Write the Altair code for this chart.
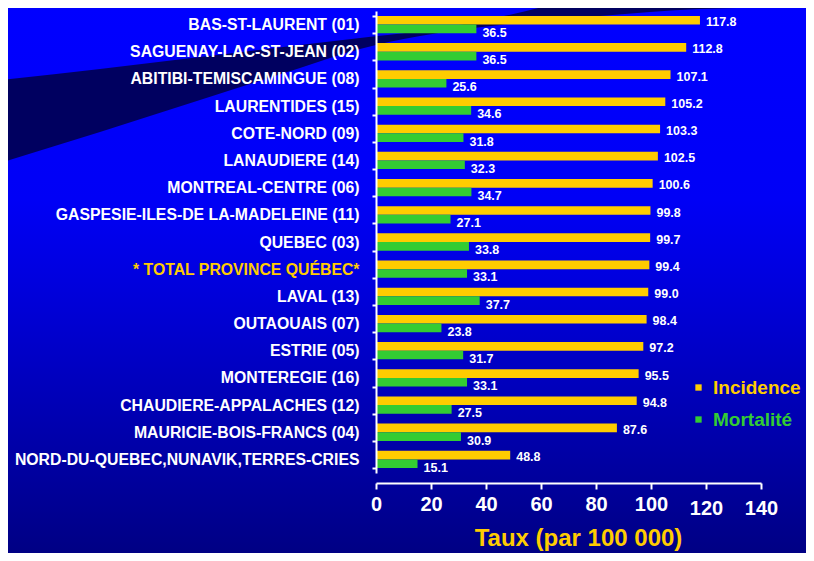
import altair as alt
import pandas as pd

regions = [
    "BAS-ST-LAURENT (01)",
    "SAGUENAY-LAC-ST-JEAN (02)",
    "ABITIBI-TEMISCAMINGUE (08)",
    "LAURENTIDES (15)",
    "COTE-NORD (09)",
    "LANAUDIERE (14)",
    "MONTREAL-CENTRE (06)",
    "GASPESIE-ILES-DE LA-MADELEINE (11)",
    "QUEBEC (03)",
    "* TOTAL PROVINCE QUÉBEC*",
    "LAVAL (13)",
    "OUTAOUAIS (07)",
    "ESTRIE (05)",
    "MONTEREGIE (16)",
    "CHAUDIERE-APPALACHES (12)",
    "MAURICIE-BOIS-FRANCS (04)",
    "NORD-DU-QUEBEC,NUNAVIK,TERRES-CRIES",
]
incidence = [117.8, 112.8, 107.1, 105.2, 103.3, 102.5, 100.6, 99.8, 99.7, 99.4,
             99.0, 98.4, 97.2, 95.5, 94.8, 87.6, 48.8]
mortalite = [36.5, 36.5, 25.6, 34.6, 31.8, 32.3, 34.7, 27.1, 33.8, 33.1,
             37.7, 23.8, 31.7, 33.1, 27.5, 30.9, 15.1]
series = ["Incidence", "Mortalité"]
x_ticks = [0, 20, 40, 60, 80, 100, 120, 140]
total_label = "* TOTAL PROVINCE QUÉBEC*"

# decorative background swoosh (pixels, relative to plot origin)
swoosh_x = [-376, -276, -176, -76, -16, 44, 124, 197, 224, 324, 440]
swoosh_top = [69, 58, 46, 34, 27, 20, 6, -11, -16, -16, -16]
swoosh_bottom = [152, 121, 89, 57, 38, 25, 14, 7, 5, -2, -4]

YELLOW = "#ffcc00"
GREEN = "#33cc33"
FONT = "Liberation Sans"

rows = []
for r, i, m in zip(regions, incidence, mortalite):
    rows.append({"region": r, "series": series[0], "value": i})
    rows.append({"region": r, "series": series[1], "value": m})
df = pd.DataFrame(rows)

W, H = 385, 462

bg = alt.Chart(pd.DataFrame({"k": [0]})).mark_rect(
    color=alt.LinearGradient(
        gradient="linear", x1=0, x2=0, y1=0, y2=1,
        stops=[
            alt.GradientStop(offset=0, color="#0000ff"),
            alt.GradientStop(offset=0.35, color="#0000f6"),
            alt.GradientStop(offset=0.55, color="#0000d6"),
            alt.GradientStop(offset=1, color="#000084"),
        ],
    )
).encode(
    x=alt.value(-368), x2=alt.value(430), y=alt.value(-3), y2=alt.value(542)
)

swoosh = alt.Chart(pd.DataFrame({"sx": swoosh_x, "st": swoosh_top, "sb": swoosh_bottom})).mark_area(
    color="#000060", interpolate="monotone"
).encode(
    x=alt.X("sx:Q", scale=None, axis=None),
    y=alt.Y("st:Q", scale=None, axis=None, stack=None),
    y2="sb:Q",
)

y_enc = alt.Y(
    "region:N", sort=regions,
    scale=alt.Scale(paddingInner=0.364, paddingOuter=0.182),
    axis=alt.Axis(
        title=None, domainColor="white", domainWidth=2, tickColor="white",
        tickWidth=2, tickSize=4, tickBand="extent", zindex=1,
        labelColor=alt.condition(alt.datum.value == total_label, alt.value(YELLOW), alt.value("white")),
        labelFont=FONT, labelFontWeight="bold", labelFontSize=15.8, labelPadding=13,
        labelLimit=500, grid=False,
    ),
)
x_enc = alt.X(
    "value:Q", scale=alt.Scale(domain=[0, 140], nice=False, zero=True),
    axis=alt.Axis(
        values=x_ticks, title="Taux (par 100 000)", offset=10, zindex=1,
        domainColor="white", domainWidth=2, tickColor="white", tickWidth=2, tickSize=6,
        labelColor="white", labelFont=FONT, labelFontWeight="bold", labelFontSize=20,
        labelPadding=alt.condition("datum.value >= 120", alt.value(9), alt.value(5)),
        titleColor=YELLOW, titleFont=FONT, titleFontWeight="bold", titleFontSize=24,
        titleX=202, titleY=62, titleBaseline="alphabetic", titleAlign="center",
        grid=False, labelFlush=False,
    ),
)
yoff = alt.YOffset("series:N", sort=series, scale=alt.Scale(paddingInner=0, paddingOuter=0))

bars = alt.Chart(df).mark_bar().encode(
    y=y_enc, x=x_enc, yOffset=yoff,
    color=alt.Color(
        "series:N", sort=series,
        scale=alt.Scale(domain=series, range=[YELLOW, GREEN]),
        legend=alt.Legend(
            title=None, orient="none", legendX=313, legendY=367,
            symbolType="square", symbolSize=40, symbolStrokeWidth=0,
            labelFont=FONT, labelFontWeight="bold", labelFontSize=19,
            labelColor={"expr": "datum.label == 'Incidence' ? '#ffcc00' : '#33cc33'"},
            labelOffset=5, rowPadding=12, padding=0, zindex=1,
        ),
    ),
)

def value_text(name, dy):
    return alt.Chart(df).transform_filter(alt.datum.series == name).mark_text(
        align="left", baseline="middle", dx=6, dy=dy, color="white",
        font=FONT, fontWeight="bold", fontSize=12.5,
    ).encode(
        y=alt.Y("region:N", sort=regions), x=alt.X("value:Q"), yOffset=yoff,
        text=alt.Text("value:Q", format=".1f"),
    )

main = alt.layer(bars, value_text(series[0], 2), value_text(series[1], 4))

chart = alt.layer(bg, swoosh, main).resolve_scale(
    x="independent", y="independent"
).properties(
    width=W, height=H,
    autosize=alt.AutoSizeParams(type="none"),
    padding={"left": 368, "top": 3, "right": 45, "bottom": 80},
    background="#000088",
).configure_view(stroke=None)

chart.save("out.html", embed_options={"renderer": "svg", "actions": False})
